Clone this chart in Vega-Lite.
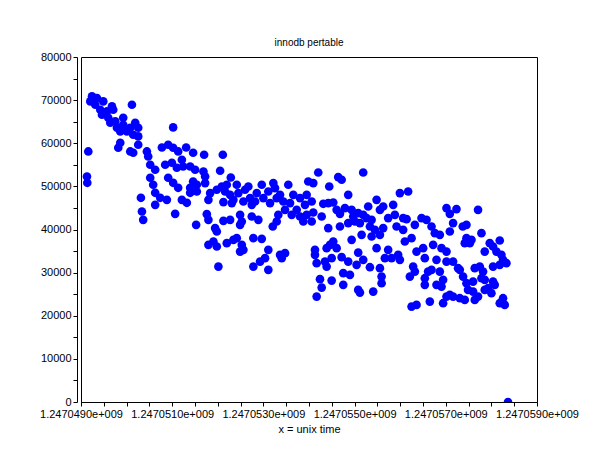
{
  "$schema": "https://vega.github.io/schema/vega-lite/v6.json",
  "width": 456,
  "height": 345,
  "autosize": "none",
  "padding": {"left": 81, "top": 57, "right": 73, "bottom": 58},
  "background": "white",
  "config": {
    "view": {"stroke": "black", "strokeWidth": 1},
    "font": "Liberation Sans"
  },
  "title": {
    "text": "innodb pertable",
    "fontSize": 10,
    "fontWeight": "normal",
    "color": "black",
    "anchor": "middle",
    "offset": 3
  },
  "data": {
    "values": [
      {"x": 1247049241, "y": 70860}, {"x": 1247049350, "y": 70490}, {"x": 1247049204, "y": 69700},
      {"x": 1247049313, "y": 68930}, {"x": 1247049488, "y": 69700}, {"x": 1247049423, "y": 67770},
      {"x": 1247049460, "y": 66610}, {"x": 1247049569, "y": 67380}, {"x": 1247049679, "y": 68540},
      {"x": 1247049707, "y": 67770}, {"x": 1247049598, "y": 65920}, {"x": 1247049642, "y": 64760},
      {"x": 1247049751, "y": 65060}, {"x": 1247049788, "y": 63600}, {"x": 1247049861, "y": 62740},
      {"x": 1247049926, "y": 65920}, {"x": 1247049926, "y": 64290}, {"x": 1247050007, "y": 62740},
      {"x": 1247050117, "y": 68930}, {"x": 1247050080, "y": 63600}, {"x": 1247050145, "y": 61970},
      {"x": 1247050189, "y": 64760}, {"x": 1247050255, "y": 63600}, {"x": 1247050255, "y": 61580},
      {"x": 1247051021, "y": 63670}, {"x": 1247049160, "y": 58100}, {"x": 1247049131, "y": 52290},
      {"x": 1247049138, "y": 50830}, {"x": 1247049861, "y": 60110}, {"x": 1247049817, "y": 58950},
      {"x": 1247050080, "y": 58100}, {"x": 1247050145, "y": 57790}, {"x": 1247050255, "y": 59650},
      {"x": 1247050445, "y": 58100}, {"x": 1247050474, "y": 56930}, {"x": 1247050774, "y": 59020},
      {"x": 1247050912, "y": 59650}, {"x": 1247051021, "y": 58950}, {"x": 1247051131, "y": 58100},
      {"x": 1247051306, "y": 59020}, {"x": 1247051459, "y": 57790}, {"x": 1247050518, "y": 55010},
      {"x": 1247050627, "y": 53850}, {"x": 1247050846, "y": 55010}, {"x": 1247050993, "y": 55470},
      {"x": 1247051102, "y": 54310}, {"x": 1247051212, "y": 56170}, {"x": 1247051240, "y": 54610},
      {"x": 1247051394, "y": 54610}, {"x": 1247051503, "y": 53850}, {"x": 1247050518, "y": 51990},
      {"x": 1247050583, "y": 50370}, {"x": 1247050912, "y": 51990}, {"x": 1247051021, "y": 50830},
      {"x": 1247051131, "y": 49670}, {"x": 1247051459, "y": 51130}, {"x": 1247051394, "y": 49670},
      {"x": 1247051540, "y": 48810}, {"x": 1247050627, "y": 48510}, {"x": 1247050737, "y": 47350},
      {"x": 1247050883, "y": 46880}, {"x": 1247050627, "y": 45720}, {"x": 1247051212, "y": 46880},
      {"x": 1247051321, "y": 46190}, {"x": 1247050314, "y": 47350}, {"x": 1247050336, "y": 44170},
      {"x": 1247050364, "y": 42240}, {"x": 1247051065, "y": 43630}, {"x": 1247051525, "y": 41080},
      {"x": 1247051700, "y": 57330}, {"x": 1247052110, "y": 57330}, {"x": 1247051685, "y": 53450},
      {"x": 1247051722, "y": 52290}, {"x": 1247052051, "y": 53620}, {"x": 1247052285, "y": 52060},
      {"x": 1247051540, "y": 50370}, {"x": 1247051722, "y": 50760}, {"x": 1247051394, "y": 48510},
      {"x": 1247051832, "y": 48440}, {"x": 1247051794, "y": 46880}, {"x": 1247051978, "y": 49210},
      {"x": 1247052088, "y": 49970}, {"x": 1247052160, "y": 48810}, {"x": 1247052197, "y": 50370},
      {"x": 1247052270, "y": 48040}, {"x": 1247052342, "y": 46880}, {"x": 1247052123, "y": 46350},
      {"x": 1247052307, "y": 46120}, {"x": 1247052416, "y": 50370}, {"x": 1247052451, "y": 48440},
      {"x": 1247052598, "y": 49210}, {"x": 1247052670, "y": 49970}, {"x": 1247052561, "y": 46490},
      {"x": 1247052708, "y": 47280}, {"x": 1247052745, "y": 45720}, {"x": 1247052854, "y": 48440},
      {"x": 1247052817, "y": 46490}, {"x": 1247052964, "y": 50370}, {"x": 1247052999, "y": 47280},
      {"x": 1247053108, "y": 48810}, {"x": 1247053218, "y": 50760}, {"x": 1247053255, "y": 49600},
      {"x": 1247053146, "y": 46120}, {"x": 1247053292, "y": 47280}, {"x": 1247053365, "y": 48040},
      {"x": 1247053437, "y": 46490}, {"x": 1247053546, "y": 50370}, {"x": 1247053474, "y": 44560},
      {"x": 1247053584, "y": 46120}, {"x": 1247053656, "y": 48040}, {"x": 1247053621, "y": 43400},
      {"x": 1247053730, "y": 44560}, {"x": 1247053803, "y": 47280}, {"x": 1247053803, "y": 43010},
      {"x": 1247053912, "y": 45720}, {"x": 1247053949, "y": 48040}, {"x": 1247053949, "y": 43400},
      {"x": 1247053984, "y": 51130}, {"x": 1247053875, "y": 41850}, {"x": 1247053327, "y": 43400},
      {"x": 1247053292, "y": 41850}, {"x": 1247053205, "y": 40690}, {"x": 1247051759, "y": 43560},
      {"x": 1247051794, "y": 42240}, {"x": 1247052123, "y": 42010}, {"x": 1247052270, "y": 42240},
      {"x": 1247052489, "y": 43400}, {"x": 1247052526, "y": 41850}, {"x": 1247052489, "y": 41080},
      {"x": 1247052745, "y": 43010}, {"x": 1247052889, "y": 42240}, {"x": 1247051941, "y": 40320},
      {"x": 1247051978, "y": 39530}, {"x": 1247051794, "y": 36440}, {"x": 1247051904, "y": 37210},
      {"x": 1247051978, "y": 36050}, {"x": 1247052197, "y": 36830}, {"x": 1247052342, "y": 37600},
      {"x": 1247052416, "y": 38000}, {"x": 1247052526, "y": 36440}, {"x": 1247052489, "y": 34880},
      {"x": 1247052561, "y": 35280}, {"x": 1247052780, "y": 38000}, {"x": 1247052964, "y": 37830},
      {"x": 1247053108, "y": 35280}, {"x": 1247053036, "y": 33350}, {"x": 1247052927, "y": 32560},
      {"x": 1247053365, "y": 34120}, {"x": 1247053474, "y": 34510}, {"x": 1247053402, "y": 33350},
      {"x": 1247052013, "y": 31400}, {"x": 1247052780, "y": 31400}, {"x": 1247053108, "y": 30640},
      {"x": 1247054203, "y": 53220}, {"x": 1247055189, "y": 53220}, {"x": 1247054094, "y": 50760},
      {"x": 1247054641, "y": 52150}, {"x": 1247054716, "y": 51530}, {"x": 1247054444, "y": 49970},
      {"x": 1247055993, "y": 48440}, {"x": 1247056174, "y": 48810}, {"x": 1247054860, "y": 48040},
      {"x": 1247055482, "y": 46880}, {"x": 1247055846, "y": 45720}, {"x": 1247055627, "y": 45330},
      {"x": 1247055555, "y": 44560}, {"x": 1247054059, "y": 46490}, {"x": 1247054094, "y": 43940},
      {"x": 1247054059, "y": 41850}, {"x": 1247054278, "y": 43010}, {"x": 1247054313, "y": 45960},
      {"x": 1247054422, "y": 46120}, {"x": 1247054532, "y": 46260}, {"x": 1247054606, "y": 44560},
      {"x": 1247054679, "y": 43630}, {"x": 1247054788, "y": 44960}, {"x": 1247054935, "y": 44560},
      {"x": 1247054970, "y": 43010}, {"x": 1247055079, "y": 43800}, {"x": 1247055189, "y": 43400},
      {"x": 1247055298, "y": 45330}, {"x": 1247055263, "y": 42640}, {"x": 1247055373, "y": 42240},
      {"x": 1247055336, "y": 40690}, {"x": 1247055117, "y": 41480}, {"x": 1247055007, "y": 41850},
      {"x": 1247054860, "y": 41480}, {"x": 1247054679, "y": 40690}, {"x": 1247054422, "y": 40320},
      {"x": 1247055445, "y": 39920}, {"x": 1247055627, "y": 40320}, {"x": 1247055555, "y": 38760},
      {"x": 1247055373, "y": 38370}, {"x": 1247055736, "y": 42640}, {"x": 1247055883, "y": 43400},
      {"x": 1247056065, "y": 42640}, {"x": 1247056140, "y": 42400}, {"x": 1247055920, "y": 40690},
      {"x": 1247056065, "y": 39920}, {"x": 1247056102, "y": 37210}, {"x": 1247055154, "y": 38760},
      {"x": 1247054935, "y": 37600}, {"x": 1247054532, "y": 37210}, {"x": 1247054460, "y": 36440},
      {"x": 1247054606, "y": 35670}, {"x": 1247054387, "y": 35670}, {"x": 1247054131, "y": 35280},
      {"x": 1247054131, "y": 34120}, {"x": 1247054168, "y": 32190}, {"x": 1247054350, "y": 32560},
      {"x": 1247054387, "y": 31400}, {"x": 1247054497, "y": 33350}, {"x": 1247054716, "y": 33580},
      {"x": 1247054860, "y": 32560}, {"x": 1247055079, "y": 34650}, {"x": 1247055044, "y": 31800},
      {"x": 1247055189, "y": 32960}, {"x": 1247055336, "y": 31260}, {"x": 1247055482, "y": 35670},
      {"x": 1247055736, "y": 35280}, {"x": 1247055664, "y": 33350}, {"x": 1247055811, "y": 33350},
      {"x": 1247055955, "y": 34120}, {"x": 1247055993, "y": 32960}, {"x": 1247055555, "y": 31030},
      {"x": 1247055592, "y": 29080}, {"x": 1247055592, "y": 27550}, {"x": 1247054751, "y": 29870},
      {"x": 1247054898, "y": 29480}, {"x": 1247054241, "y": 28480}, {"x": 1247054278, "y": 26530},
      {"x": 1247054497, "y": 28150}, {"x": 1247054751, "y": 27160}, {"x": 1247054168, "y": 24440},
      {"x": 1247055079, "y": 25990}, {"x": 1247055117, "y": 25370}, {"x": 1247055408, "y": 25600},
      {"x": 1247057015, "y": 44960}, {"x": 1247057234, "y": 44730}, {"x": 1247057088, "y": 43630},
      {"x": 1247056468, "y": 42640}, {"x": 1247056577, "y": 42240}, {"x": 1247056321, "y": 41080},
      {"x": 1247056687, "y": 40690}, {"x": 1247056759, "y": 39150}, {"x": 1247056869, "y": 38760},
      {"x": 1247057160, "y": 41480}, {"x": 1247057088, "y": 39530}, {"x": 1247056249, "y": 38000},
      {"x": 1247056503, "y": 35670}, {"x": 1247056358, "y": 34880}, {"x": 1247056722, "y": 36440},
      {"x": 1247056906, "y": 35670}, {"x": 1247057015, "y": 34880}, {"x": 1247056540, "y": 33350},
      {"x": 1247056796, "y": 32960}, {"x": 1247057015, "y": 32560}, {"x": 1247057160, "y": 32560},
      {"x": 1247057269, "y": 31030}, {"x": 1247056284, "y": 31400}, {"x": 1247056321, "y": 30240},
      {"x": 1247056212, "y": 29080}, {"x": 1247056612, "y": 30240}, {"x": 1247056687, "y": 30640},
      {"x": 1247056869, "y": 30240}, {"x": 1247056540, "y": 28710}, {"x": 1247056540, "y": 27160},
      {"x": 1247056796, "y": 27160}, {"x": 1247056941, "y": 28320}, {"x": 1247056906, "y": 26760},
      {"x": 1247057088, "y": 24830}, {"x": 1247057015, "y": 24440}, {"x": 1247057160, "y": 24440},
      {"x": 1247056941, "y": 22910}, {"x": 1247056650, "y": 23280}, {"x": 1247056358, "y": 22510},
      {"x": 1247056249, "y": 22120},
      {"x": 1247057707, "y": 44560}, {"x": 1247057453, "y": 41080}, {"x": 1247057372, "y": 40690},
      {"x": 1247057782, "y": 39150}, {"x": 1247057453, "y": 38000}, {"x": 1247057563, "y": 37600},
      {"x": 1247057526, "y": 36830}, {"x": 1247057416, "y": 36830}, {"x": 1247057964, "y": 36830},
      {"x": 1247058183, "y": 37440}, {"x": 1247058036, "y": 36050}, {"x": 1247057854, "y": 34880},
      {"x": 1247058110, "y": 34880}, {"x": 1247058220, "y": 34120}, {"x": 1247058255, "y": 32960},
      {"x": 1247058329, "y": 32190}, {"x": 1247058183, "y": 31800}, {"x": 1247058036, "y": 31400},
      {"x": 1247057635, "y": 31030}, {"x": 1247057745, "y": 31400}, {"x": 1247057817, "y": 30240},
      {"x": 1247057307, "y": 30640}, {"x": 1247057379, "y": 29080}, {"x": 1247057782, "y": 28710},
      {"x": 1247057854, "y": 28320}, {"x": 1247058036, "y": 27920}, {"x": 1247058073, "y": 27160},
      {"x": 1247057926, "y": 26390}, {"x": 1247057854, "y": 25990}, {"x": 1247058001, "y": 25230},
      {"x": 1247057598, "y": 27920}, {"x": 1247057453, "y": 27550}, {"x": 1247057488, "y": 25990},
      {"x": 1247057598, "y": 25600}, {"x": 1247057707, "y": 24440}, {"x": 1247057635, "y": 23670},
      {"x": 1247057416, "y": 23670}, {"x": 1247057307, "y": 24070}, {"x": 1247058255, "y": 24070},
      {"x": 1247058183, "y": 22910}, {"x": 1247058292, "y": 22510}, {"x": 1247058364, "y": 0}
    ]
  },
  "mark": {
    "type": "point",
    "filled": true,
    "color": "#0000ff",
    "opacity": 1,
    "size": 75,
    "clip": true
  },
  "encoding": {
    "x": {
      "field": "x",
      "type": "quantitative",
      "title": "x = unix time",
      "scale": {"domain": [1247049000, 1247059000], "nice": false, "zero": false},
      "axis": {
        "values": [1247049000, 1247049500, 1247050000, 1247050500, 1247051000, 1247051500, 1247052000, 1247052500, 1247053000, 1247053500, 1247054000, 1247054500, 1247055000, 1247055500, 1247056000, 1247056500, 1247057000, 1247057500, 1247058000, 1247058500, 1247059000],
        "labelExpr": "datum.value % 2000 == 1000 ? format(datum.value / 1e9, '.7f') + 'e+009' : ''",
        "labelOverlap": false,
        "labelFlush": false,
        "labelBound": false,
        "labelFontSize": 11,
        "labelColor": "black",
        "labelPadding": 2,
        "tickSize": 4,
        "tickColor": "black",
        "domainColor": "black",
        "grid": false,
        "titleFontSize": 11,
        "titleFontWeight": "normal",
        "titleColor": "black",
        "titlePadding": 4
      }
    },
    "y": {
      "field": "y",
      "type": "quantitative",
      "title": null,
      "scale": {"domain": [0, 80000], "nice": false},
      "axis": {
        "values": [0, 5000, 10000, 15000, 20000, 25000, 30000, 35000, 40000, 45000, 50000, 55000, 60000, 65000, 70000, 75000, 80000],
        "labelExpr": "datum.value % 10000 == 0 ? format(datum.value, 'd') : ''",
        "labelOverlap": false,
        "labelFontSize": 11,
        "labelColor": "black",
        "labelPadding": 2,
        "tickSize": 4,
        "tickColor": "black",
        "domainColor": "black",
        "offset": 4,
        "grid": false
      }
    }
  }
}
